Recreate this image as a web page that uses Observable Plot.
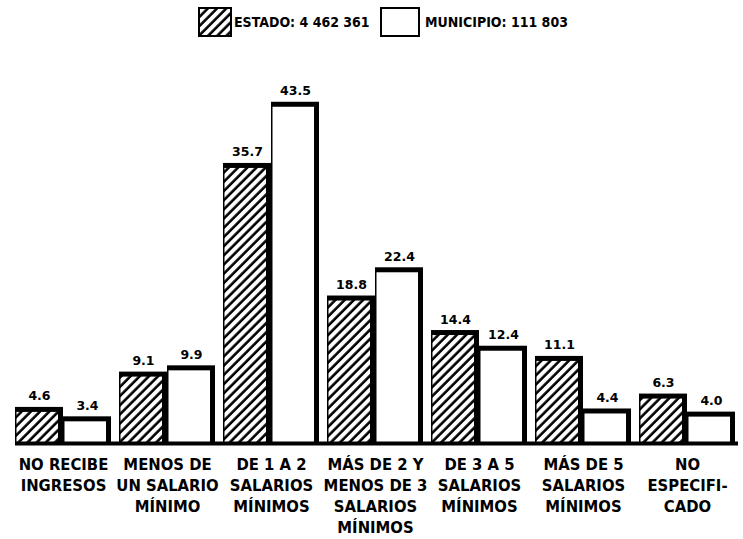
<!DOCTYPE html>
<html>
<head>
<meta charset="utf-8">
<script src="https://cdn.jsdelivr.net/npm/d3@7"></script>
<script src="https://cdn.jsdelivr.net/npm/@observablehq/plot@0.6"></script>
<style>
  html, body { margin: 0; padding: 0; background: #fff; }
  body { width: 743px; height: 539px; overflow: hidden; font-family: "DejaVu Sans Condensed", "DejaVu Sans", sans-serif; }
  #legend { position: relative; height: 45px; width: 743px; }
  #legend .item { position: absolute; top: 7px; display: flex; align-items: center; font-weight: bold; font-size: 14px; color: #000; }
  #legend .item span { margin-left: 2px; }
</style>
</head>
<body>
<div id="legend">
  <svg width="0" height="0" style="position:absolute">
    <defs>
      <pattern id="hatch" patternUnits="userSpaceOnUse" width="6.5" height="6.5" patternTransform="rotate(45)">
        <rect width="6.5" height="6.5" fill="#fff"></rect>
        <line x1="1.5" y1="0" x2="1.5" y2="6.5" stroke="#000" stroke-width="2.6"></line>
      </pattern>
    </defs>
  </svg>
  <div class="item" style="left:198px">
    <svg width="34" height="30"><rect x="1" y="1" width="32" height="28" fill="url(#hatch)" stroke="#000" stroke-width="2"></rect></svg>
    <span>ESTADO: 4 462 361</span>
  </div>
  <div class="item" style="left:380px">
    <svg width="40" height="30"><rect x="1" y="1" width="38" height="28" fill="#fff" stroke="#000" stroke-width="2"></rect></svg>
    <span style="margin-left:5px">MUNICIPIO: 111 803</span>
  </div>
</div>
<div id="chart"></div>
<script>
const categories = [
  "NO RECIBE\nINGRESOS",
  "MENOS DE\nUN SALARIO\nMÍNIMO",
  "DE 1 A 2\nSALARIOS\nMÍNIMOS",
  "MÁS DE 2 Y\nMENOS DE 3\nSALARIOS\nMÍNIMOS",
  "DE 3 A 5\nSALARIOS\nMÍNIMOS",
  "MÁS DE 5\nSALARIOS\nMÍNIMOS",
  "NO\nESPECIFI-\nCADO"
];
const estado = [4.6, 9.1, 35.7, 18.8, 14.4, 11.1, 6.3];
const municipio = [3.4, 9.9, 43.5, 22.4, 12.4, 4.4, 4.0];

const rows = categories.map((c, i) => ({cat: c, estado: estado[i], municipio: municipio[i]}));
const half = 48;
const font = "'DejaVu Sans Condensed', 'DejaVu Sans', sans-serif";

const chart = Plot.plot({
  width: 743,
  height: 494,
  marginLeft: 15,
  marginRight: 5,
  marginTop: 45,
  marginBottom: 96,
  style: {fontFamily: font, background: "#fff", color: "#000"},
  x: {domain: categories, paddingInner: 0.08, paddingOuter: 0, align: 0, axis: null},
  y: {domain: [0, 45], axis: null},
  marks: [
    Plot.barY(rows, {x: "cat", y: "estado", fill: "#000", insetRight: half}),
    Plot.barY(rows, {x: "cat", y: "municipio", fill: "#000", insetLeft: half}),
    Plot.barY(rows, {x: "cat", y: "estado", fill: "url(#hatch)", insetRight: half + 5, insetTop: 5, insetLeft: 1.5}),
    Plot.barY(rows, {x: "cat", y: "municipio", fill: "#fff", insetLeft: half + 1.5, insetTop: 5, insetRight: 5}),
    Plot.ruleY([0], {stroke: "#000", strokeWidth: 4}),
    Plot.text(rows, {x: "cat", y: "estado", text: d => d.estado.toFixed(1), dx: -half / 2, dy: -7, lineAnchor: "bottom", fontSize: 12.5, fontWeight: "bold", fontFamily: "'DejaVu Sans', sans-serif"}),
    Plot.text(rows, {x: "cat", y: "municipio", text: d => d.municipio.toFixed(1), dx: half / 2, dy: -7, lineAnchor: "bottom", fontSize: 12.5, fontWeight: "bold", fontFamily: "'DejaVu Sans', sans-serif"}),
    Plot.axisX({tickSize: 0, tickPadding: 12, fontSize: 16.5, fontWeight: "bold", lineHeight: 1.27, label: null})
  ]
});
document.getElementById("chart").appendChild(chart);
</script>
</body>
</html>
